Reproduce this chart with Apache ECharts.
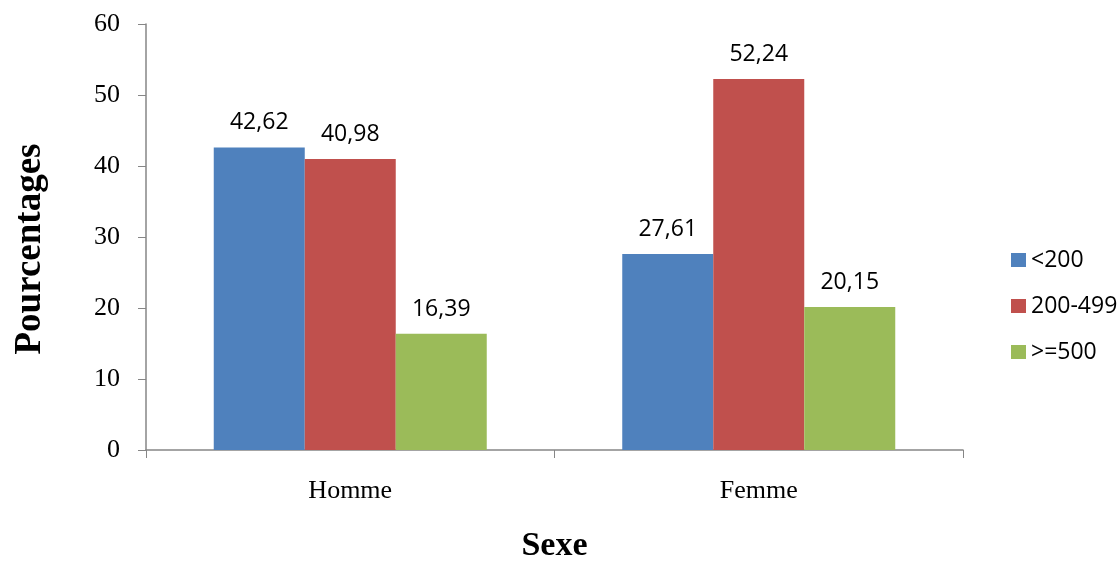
<!DOCTYPE html>
<html><head><meta charset="utf-8">
<script src="https://cdn.jsdelivr.net/npm/echarts@6/dist/echarts.min.js"></script>
<style>html,body{margin:0;padding:0;background:#fff;overflow:hidden}#c{width:1120px;height:568px}</style>
</head><body><div id="c"></div>
<script>
const categories = ['Homme', 'Femme'];
const seriesNames = ['<200', '200-499', '>=500'];
const lt200 = [42.62, 27.61];
const s200_499 = [40.98, 52.24];
const ge500 = [16.39, 20.15];
const colors = ['#4F81BD', '#C0504D', '#9BBB59'];
const values = [lt200, s200_499, ge500];

const chart = echarts.init(document.getElementById('c'), null, { width: 1120, height: 568 });
chart.setOption({
  animation: false,
  backgroundColor: '#fff',
  grid: { left: 146, width: 817, top: 24, height: 435, containLabel: false },
  legend: {
    orient: 'vertical', left: 1006, top: 243, itemWidth: 15, itemHeight: 14, itemGap: 22,
    icon: 'rect',
    textStyle: { fontFamily: 'Open Sans', fontSize: 23, lineHeight: 24, color: '#000' },
    data: seriesNames
  },
  xAxis: {
    type: 'category', data: categories,
    name: 'Sexe', nameLocation: 'middle', nameGap: 79,
    nameTextStyle: { fontFamily: 'Liberation Serif', fontWeight: 'bold', fontSize: 34, color: '#000' },
    axisLine: { lineStyle: { color: '#868686', width: 1.5 } },
    axisTick: { show: true, length: 8, lineStyle: { color: '#868686' } },
    axisLabel: { fontFamily: 'Liberation Serif', fontSize: 26, color: '#000', margin: 28 }
  },
  yAxis: {
    type: 'value', min: 0, max: 60, interval: 10,
    name: 'Pourcentages', nameLocation: 'middle', nameGap: 97, nameRotate: 90,
    nameTextStyle: { fontFamily: 'Liberation Serif', fontWeight: 'bold', fontSize: 37, color: '#000', padding: [0, 24, 0, 0] },
    axisLine: { show: true, lineStyle: { color: '#868686', width: 1.5 } },
    axisTick: { show: true, length: 8, lineStyle: { color: '#868686' } },
    splitLine: { show: false },
    axisLabel: { fontFamily: 'Liberation Serif', fontSize: 26, color: '#000', margin: 26 }
  },
  series: seriesNames.map((n, i) => ({
    name: n, type: 'bar', data: values[i], barWidth: 91, barGap: '0%',
    itemStyle: { color: colors[i] },
    label: {
      show: true, position: 'top', distance: 13,
      fontFamily: 'Open Sans', fontSize: 23, color: '#000',
      formatter: p => p.value.toFixed(2).replace('.', ',')
    }
  }))
});
</script></body></html>
